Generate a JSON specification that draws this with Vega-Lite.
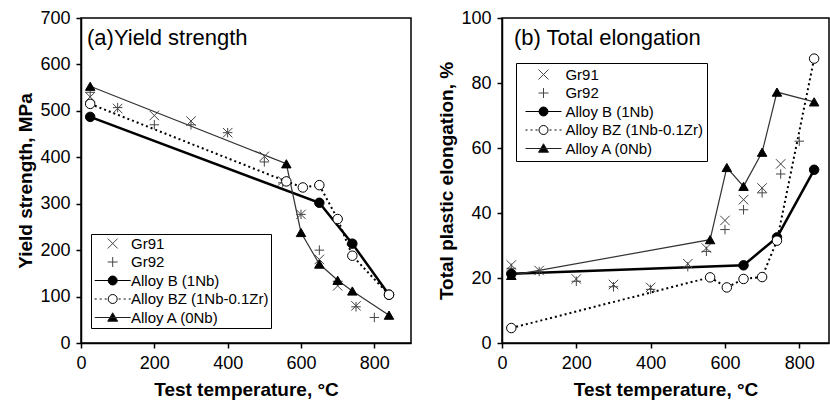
{
  "$schema": "https://vega.github.io/schema/vega-lite/v6.json",
  "padding": {"left": 16, "top": 8, "right": 0, "bottom": 0},
  "spacing": 25,
  "background": "white",
  "datasets": {
    "ys": [
      {"series": "Gr91", "T": 25, "v": 530},
      {"series": "Gr91", "T": 100, "v": 505},
      {"series": "Gr91", "T": 200, "v": 490},
      {"series": "Gr91", "T": 300, "v": 478},
      {"series": "Gr91", "T": 400, "v": 453},
      {"series": "Gr91", "T": 500, "v": 402},
      {"series": "Gr91", "T": 550, "v": 349},
      {"series": "Gr91", "T": 600, "v": 277},
      {"series": "Gr91", "T": 650, "v": 180},
      {"series": "Gr91", "T": 700, "v": 123},
      {"series": "Gr91", "T": 750, "v": 80},
      {"series": "Gr92", "T": 25, "v": 540},
      {"series": "Gr92", "T": 100, "v": 507},
      {"series": "Gr92", "T": 200, "v": 470},
      {"series": "Gr92", "T": 300, "v": 470},
      {"series": "Gr92", "T": 400, "v": 453},
      {"series": "Gr92", "T": 500, "v": 390},
      {"series": "Gr92", "T": 550, "v": 345},
      {"series": "Gr92", "T": 600, "v": 277},
      {"series": "Gr92", "T": 650, "v": 200},
      {"series": "Gr92", "T": 700, "v": 133},
      {"series": "Gr92", "T": 750, "v": 78},
      {"series": "Gr92", "T": 800, "v": 55},
      {"series": "Alloy B (1Nb)", "T": 25, "v": 487},
      {"series": "Alloy B (1Nb)", "T": 650, "v": 302},
      {"series": "Alloy B (1Nb)", "T": 740, "v": 214},
      {"series": "Alloy B (1Nb)", "T": 840, "v": 104},
      {"series": "Alloy BZ (1Nb-0.1Zr)", "T": 25, "v": 515},
      {"series": "Alloy BZ (1Nb-0.1Zr)", "T": 560, "v": 348},
      {"series": "Alloy BZ (1Nb-0.1Zr)", "T": 605, "v": 335},
      {"series": "Alloy BZ (1Nb-0.1Zr)", "T": 650, "v": 340},
      {"series": "Alloy BZ (1Nb-0.1Zr)", "T": 700, "v": 267},
      {"series": "Alloy BZ (1Nb-0.1Zr)", "T": 740, "v": 188},
      {"series": "Alloy BZ (1Nb-0.1Zr)", "T": 840, "v": 104},
      {"series": "Alloy A (0Nb)", "T": 25, "v": 553},
      {"series": "Alloy A (0Nb)", "T": 560, "v": 386},
      {"series": "Alloy A (0Nb)", "T": 600, "v": 238},
      {"series": "Alloy A (0Nb)", "T": 650, "v": 170},
      {"series": "Alloy A (0Nb)", "T": 700, "v": 135},
      {"series": "Alloy A (0Nb)", "T": 740, "v": 112},
      {"series": "Alloy A (0Nb)", "T": 840, "v": 60}
    ],
    "el": [
      {"series": "Gr91", "T": 25, "v": 24},
      {"series": "Gr91", "T": 100, "v": 22.3},
      {"series": "Gr91", "T": 200, "v": 19.7},
      {"series": "Gr91", "T": 300, "v": 18},
      {"series": "Gr91", "T": 400, "v": 17.1},
      {"series": "Gr91", "T": 500, "v": 24.4},
      {"series": "Gr91", "T": 550, "v": 29.2},
      {"series": "Gr91", "T": 600, "v": 37.7},
      {"series": "Gr91", "T": 650, "v": 44.1},
      {"series": "Gr91", "T": 700, "v": 47.7},
      {"series": "Gr91", "T": 750, "v": 55.1},
      {"series": "Gr92", "T": 25, "v": 23},
      {"series": "Gr92", "T": 100, "v": 22},
      {"series": "Gr92", "T": 200, "v": 19},
      {"series": "Gr92", "T": 300, "v": 17.3},
      {"series": "Gr92", "T": 400, "v": 16.5},
      {"series": "Gr92", "T": 500, "v": 23.5},
      {"series": "Gr92", "T": 550, "v": 28.2},
      {"series": "Gr92", "T": 600, "v": 34.9},
      {"series": "Gr92", "T": 650, "v": 41},
      {"series": "Gr92", "T": 700, "v": 46.2},
      {"series": "Gr92", "T": 750, "v": 52},
      {"series": "Gr92", "T": 800, "v": 62.1},
      {"series": "Alloy B (1Nb)", "T": 25, "v": 21.3},
      {"series": "Alloy B (1Nb)", "T": 650, "v": 23.9},
      {"series": "Alloy B (1Nb)", "T": 740, "v": 32.5},
      {"series": "Alloy B (1Nb)", "T": 840, "v": 53.3},
      {"series": "Alloy BZ (1Nb-0.1Zr)", "T": 25, "v": 4.6},
      {"series": "Alloy BZ (1Nb-0.1Zr)", "T": 560, "v": 20.2},
      {"series": "Alloy BZ (1Nb-0.1Zr)", "T": 605, "v": 17.1},
      {"series": "Alloy BZ (1Nb-0.1Zr)", "T": 650, "v": 19.7},
      {"series": "Alloy BZ (1Nb-0.1Zr)", "T": 700, "v": 20.3},
      {"series": "Alloy BZ (1Nb-0.1Zr)", "T": 740, "v": 31.5},
      {"series": "Alloy BZ (1Nb-0.1Zr)", "T": 840, "v": 87.5},
      {"series": "Alloy A (0Nb)", "T": 25, "v": 20.8},
      {"series": "Alloy A (0Nb)", "T": 560, "v": 31.8},
      {"series": "Alloy A (0Nb)", "T": 605, "v": 54},
      {"series": "Alloy A (0Nb)", "T": 650, "v": 48.2},
      {"series": "Alloy A (0Nb)", "T": 700, "v": 58.7},
      {"series": "Alloy A (0Nb)", "T": 740, "v": 77.2},
      {"series": "Alloy A (0Nb)", "T": 840, "v": 74.2}
    ]
  },
  "hconcat": [
    {
      "width": 330,
      "height": 325,
      "title": {"text": "(a)Yield strength", "dx": 6, "dy": 45},
      "data": {"name": "ys"},
      "encoding": {
        "x": {"field": "T", "type": "quantitative", "scale": {"domain": [0, 900], "nice": false}, "axis": {"values": [0, 200, 400, 600, 800], "title": "Test temperature, °C", "titlePadding": 8}},
        "y": {"field": "v", "type": "quantitative", "scale": {"domain": [0, 700], "nice": false}, "axis": {"values": [0, 100, 200, 300, 400, 500, 600, 700], "title": "Yield strength, MPa"}}
      },
      "layer": [
        {"transform": [{"filter": "datum.series === 'Alloy B (1Nb)'"}], "mark": {"type": "line", "stroke": "black", "strokeWidth": 2.5}},
        {"transform": [{"filter": "datum.series === 'Alloy BZ (1Nb-0.1Zr)'"}], "mark": {"type": "line", "stroke": "black", "strokeWidth": 2, "strokeDash": [2, 3]}},
        {"transform": [{"filter": "datum.series === 'Alloy A (0Nb)'"}], "mark": {"type": "line", "stroke": "#333", "strokeWidth": 1.2}},
        {
          "mark": {"type": "point", "filled": true, "strokeWidth": 1, "opacity": 1},
          "encoding": {
            "shape": {"field": "series", "type": "nominal", "legend": null, "scale": {"domain": ["Gr91", "Gr92", "Alloy B (1Nb)", "Alloy BZ (1Nb-0.1Zr)", "Alloy A (0Nb)"], "range": ["M-1,-1L1,1M-1,1L1,-1", "M-1,0L1,0M0,-1L0,1", "circle", "circle", "triangle-up"]}},
            "fill": {"field": "series", "type": "nominal", "legend": null, "scale": {"domain": ["Gr91", "Gr92", "Alloy B (1Nb)", "Alloy BZ (1Nb-0.1Zr)", "Alloy A (0Nb)"], "range": ["transparent", "transparent", "black", "white", "black"]}},
            "stroke": {"field": "series", "type": "nominal", "legend": null, "scale": {"domain": ["Gr91", "Gr92", "Alloy B (1Nb)", "Alloy BZ (1Nb-0.1Zr)", "Alloy A (0Nb)"], "range": ["#444", "#444", "black", "black", "black"]}},
            "size": {"field": "series", "type": "nominal", "legend": null, "scale": {"domain": ["Gr91", "Gr92", "Alloy B (1Nb)", "Alloy BZ (1Nb-0.1Zr)", "Alloy A (0Nb)"], "range": [90, 90, 115, 100, 120]}}
          }
        },
        {
          "mark": {"type": "point", "filled": false, "opacity": 0, "size": 100},
          "encoding": {
            "shape": {"field": "series", "type": "nominal", "title": null,
              "scale": {"domain": ["Gr91", "Gr92", "Alloy B (1Nb)", "Alloy BZ (1Nb-0.1Zr)", "Alloy A (0Nb)"], "range": ["M-1,-1L1,1M-1,1L1,-1", "M-1,0L1,0M0,-1L0,1", "M-3.6,0L3.6,0M-0.9,0A0.9,0.9 0 1,0 0.9,0A0.9,0.9 0 1,0 -0.9,0", "M-3.6,0L-3.2,0M-2.6,0L-2.2,0M-1.6,0L-1.2,0M1.2,0L1.6,0M2.2,0L2.6,0M3.2,0L3.6,0M-0.9,0A0.9,0.9 0 1,0 0.9,0A0.9,0.9 0 1,0 -0.9,0", "M-3.6,0L3.6,0M0,-0.95L1,0.75L-1,0.75Z"]},
              "legend": {"orient": "none", "legendX": 10, "legendY": 216, "padding": 2, "symbolOffset": 12.2, "labelOffset": 10.8, "symbolOpacity": 1}},
            "fill": {"field": "series", "type": "nominal", "title": null, "scale": {"domain": ["Gr91", "Gr92", "Alloy B (1Nb)", "Alloy BZ (1Nb-0.1Zr)", "Alloy A (0Nb)"], "range": ["transparent", "transparent", "black", "white", "black"]}},
            "stroke": {"field": "series", "type": "nominal", "title": null, "scale": {"domain": ["Gr91", "Gr92", "Alloy B (1Nb)", "Alloy BZ (1Nb-0.1Zr)", "Alloy A (0Nb)"], "range": ["#444", "#444", "black", "black", "#222"]}},
            "strokeWidth": {"field": "series", "type": "nominal", "title": null, "scale": {"domain": ["Gr91", "Gr92", "Alloy B (1Nb)", "Alloy BZ (1Nb-0.1Zr)", "Alloy A (0Nb)"], "range": [1, 1, 2.5, 1.8, 1.2]}}
          }
        }
      ],
      "resolve": {"scale": {"shape": "independent", "fill": "independent", "stroke": "independent", "strokeWidth": "independent"}}
    },
    {
      "width": 327,
      "height": 325,
      "title": {"text": "(b) Total elongation", "dx": 12, "dy": 45},
      "data": {"name": "el"},
      "encoding": {
        "x": {"field": "T", "type": "quantitative", "scale": {"domain": [0, 880], "nice": false}, "axis": {"values": [0, 200, 400, 600, 800], "title": "Test temperature, °C", "titlePadding": 8}},
        "y": {"field": "v", "type": "quantitative", "scale": {"domain": [0, 100], "nice": false}, "axis": {"values": [0, 20, 40, 60, 80, 100], "title": "Total plastic elongation, %"}}
      },
      "layer": [
        {"transform": [{"filter": "datum.series === 'Alloy B (1Nb)'"}], "mark": {"type": "line", "stroke": "black", "strokeWidth": 2.5}},
        {"transform": [{"filter": "datum.series === 'Alloy BZ (1Nb-0.1Zr)'"}], "mark": {"type": "line", "stroke": "black", "strokeWidth": 2, "strokeDash": [2, 3]}},
        {"transform": [{"filter": "datum.series === 'Alloy A (0Nb)'"}], "mark": {"type": "line", "stroke": "#333", "strokeWidth": 1.2}},
        {
          "mark": {"type": "point", "filled": true, "strokeWidth": 1, "opacity": 1},
          "encoding": {
            "shape": {"field": "series", "type": "nominal", "legend": null, "scale": {"domain": ["Gr91", "Gr92", "Alloy B (1Nb)", "Alloy BZ (1Nb-0.1Zr)", "Alloy A (0Nb)"], "range": ["M-1,-1L1,1M-1,1L1,-1", "M-1,0L1,0M0,-1L0,1", "circle", "circle", "triangle-up"]}},
            "fill": {"field": "series", "type": "nominal", "legend": null, "scale": {"domain": ["Gr91", "Gr92", "Alloy B (1Nb)", "Alloy BZ (1Nb-0.1Zr)", "Alloy A (0Nb)"], "range": ["transparent", "transparent", "black", "white", "black"]}},
            "stroke": {"field": "series", "type": "nominal", "legend": null, "scale": {"domain": ["Gr91", "Gr92", "Alloy B (1Nb)", "Alloy BZ (1Nb-0.1Zr)", "Alloy A (0Nb)"], "range": ["#444", "#444", "black", "black", "black"]}},
            "size": {"field": "series", "type": "nominal", "legend": null, "scale": {"domain": ["Gr91", "Gr92", "Alloy B (1Nb)", "Alloy BZ (1Nb-0.1Zr)", "Alloy A (0Nb)"], "range": [90, 90, 115, 100, 120]}}
          }
        },
        {
          "mark": {"type": "point", "filled": false, "opacity": 0, "size": 100},
          "encoding": {
            "shape": {"field": "series", "type": "nominal", "title": null,
              "scale": {"domain": ["Gr91", "Gr92", "Alloy B (1Nb)", "Alloy BZ (1Nb-0.1Zr)", "Alloy A (0Nb)"], "range": ["M-1,-1L1,1M-1,1L1,-1", "M-1,0L1,0M0,-1L0,1", "M-3.6,0L3.6,0M-0.9,0A0.9,0.9 0 1,0 0.9,0A0.9,0.9 0 1,0 -0.9,0", "M-3.6,0L-3.2,0M-2.6,0L-2.2,0M-1.6,0L-1.2,0M1.2,0L1.6,0M2.2,0L2.6,0M3.2,0L3.6,0M-0.9,0A0.9,0.9 0 1,0 0.9,0A0.9,0.9 0 1,0 -0.9,0", "M-3.6,0L3.6,0M0,-0.95L1,0.75L-1,0.75Z"]},
              "legend": {"orient": "none", "legendX": 14, "legendY": 45, "padding": 4, "symbolOffset": 16, "labelOffset": 14.4, "symbolOpacity": 1}},
            "fill": {"field": "series", "type": "nominal", "title": null, "scale": {"domain": ["Gr91", "Gr92", "Alloy B (1Nb)", "Alloy BZ (1Nb-0.1Zr)", "Alloy A (0Nb)"], "range": ["transparent", "transparent", "black", "white", "black"]}},
            "stroke": {"field": "series", "type": "nominal", "title": null, "scale": {"domain": ["Gr91", "Gr92", "Alloy B (1Nb)", "Alloy BZ (1Nb-0.1Zr)", "Alloy A (0Nb)"], "range": ["#444", "#444", "black", "black", "#222"]}},
            "strokeWidth": {"field": "series", "type": "nominal", "title": null, "scale": {"domain": ["Gr91", "Gr92", "Alloy B (1Nb)", "Alloy BZ (1Nb-0.1Zr)", "Alloy A (0Nb)"], "range": [1, 1, 2.5, 1.8, 1.2]}}
          }
        }
      ],
      "resolve": {"scale": {"shape": "independent", "fill": "independent", "stroke": "independent", "strokeWidth": "independent"}}
    }
  ],
  "config": {
    "font": "Liberation Sans",
    "view": {"stroke": "black", "strokeWidth": 1.5},
    "axis": {"grid": false, "domainColor": "black", "domainWidth": 1.5, "tickColor": "black", "tickWidth": 1.5, "tickSize": 5, "labelFontSize": 18, "labelColor": "black", "labelPadding": 6, "labelFlush": false, "labelFont": "Liberation Sans", "titleFont": "Liberation Sans", "titleFontSize": 19, "titleFontWeight": "bold", "titleColor": "black", "titlePadding": 4},
    "legend": {"labelFont": "Liberation Sans", "labelFontSize": 15, "labelColor": "black", "strokeColor": "black", "fillColor": "white", "rowPadding": 2.5, "direction": "vertical"},
    "title": {"font": "Liberation Sans", "fontSize": 22, "fontWeight": "normal", "color": "black", "anchor": "start", "frame": "group", "offset": 0, "baseline": "alphabetic", "orient": "top"}
  }
}
